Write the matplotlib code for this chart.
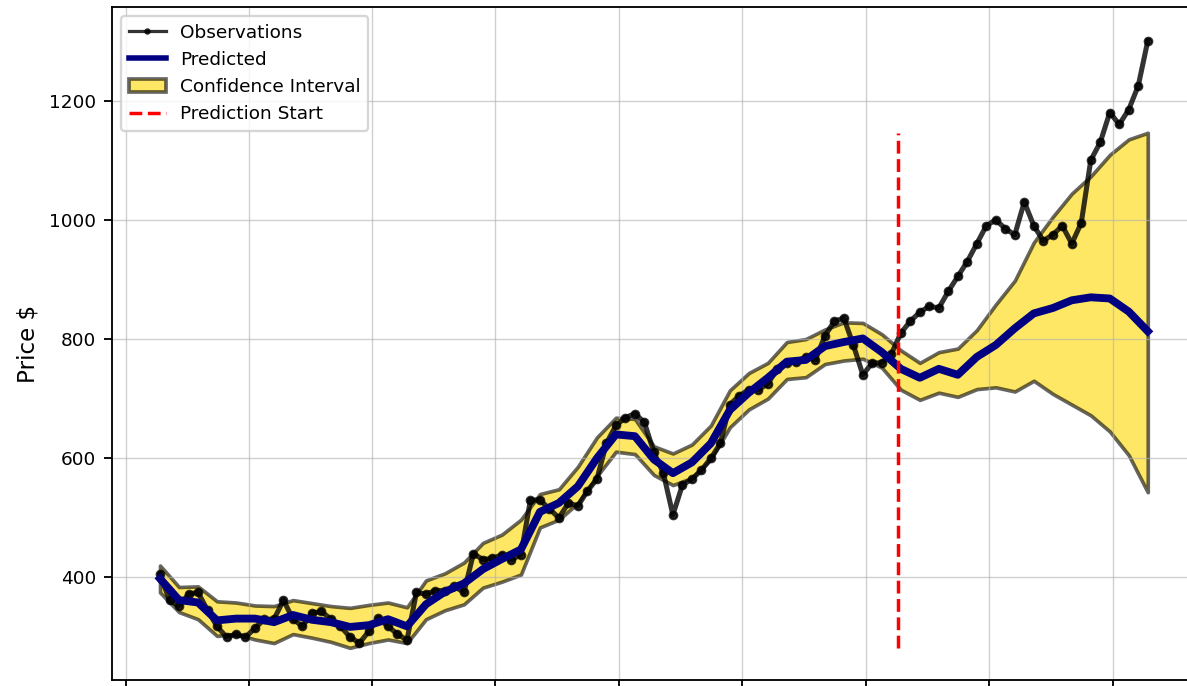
import matplotlib
matplotlib.use("Agg")
import matplotlib.pyplot as plt
import matplotlib.dates as mdates
import pandas as pd

# observed closing prices, sampled every two weeks
obs_dates = pd.date_range("2014-01-21", "2018-01-22", periods=105)
obs_price = [
    405, 362, 352, 372, 375, 345, 318, 300, 305, 300,
    315, 330, 330, 362, 330, 318, 340, 343, 330, 318,
    300, 290, 310, 332, 318, 305, 295, 375, 372, 378,
    378, 385, 375, 440, 430, 432, 438, 430, 438, 530,
    530, 515, 500, 525, 520, 545, 565, 625, 655, 668,
    675, 660, 610, 575, 505, 555, 565, 580, 600, 625,
    690, 705, 715, 715, 725, 750, 760, 762, 770, 765,
    805, 830, 835, 790, 740, 760, 760, 775, 810, 830,
    845, 855, 852, 880, 905, 930, 960, 990, 1000, 985,
    975, 1030, 990, 965, 975, 990, 960, 995, 1100, 1130,
    1180, 1160, 1185, 1225, 1300,
]

# model estimate and uncertainty interval, sampled every four weeks
fc_dates = pd.date_range("2014-01-21", "2018-01-22", periods=53)
yhat = [
    398, 362, 358, 328, 331, 331, 325, 337, 329, 325,
    317, 320, 330, 318, 355, 376, 390, 414, 431, 447,
    510, 525, 553, 600, 640, 637, 598, 575, 593, 625,
    681, 710, 735, 762, 765, 788, 795, 801, 778, 750,
    735, 750, 740, 770, 790, 818, 843, 852, 865, 870,
    868, 846, 813,
]
yhat_upper = [
    420, 384, 385, 360, 358, 353, 352, 362, 357, 352,
    349, 354, 358, 350, 395, 407, 425, 458, 472, 497,
    540, 548, 586, 635, 668, 666, 620, 608, 623, 655,
    714, 743, 760, 795, 800, 816, 828, 827, 808, 781,
    760, 778, 784, 815, 858, 898, 962, 1005, 1044, 1073,
    1109, 1135, 1146,
]
yhat_lower = [
    375, 342, 330, 302, 305, 296, 290, 305, 299, 292,
    282, 290, 296, 290, 330, 345, 355, 383, 393, 405,
    484, 497, 525, 570, 611, 607, 572, 555, 567, 598,
    652, 682, 700, 733, 736, 758, 764, 767, 752, 715,
    698, 710, 703, 716, 719, 712, 730, 708, 690, 672,
    645, 605, 543,
]
test_start = pd.Timestamp("2017-01-17")

fig = plt.figure(figsize=(1187 / 166, 686 / 166), dpi=166)
ax = fig.add_axes([0.0944, 0.00875, 0.9141, 0.98105])

ax.plot(obs_dates, obs_price, "ko-", linewidth=2.2, alpha=0.8, ms=3.2,
        label="Observations")
ax.plot(fc_dates, yhat, color="navy", linewidth=3.4, label="Predicted")
ax.fill_between(fc_dates.to_pydatetime(), yhat_upper, yhat_lower, alpha=0.6,
                facecolor="gold", edgecolor="k", linewidth=1.6,
                label="Confidence Interval")
ax.vlines(x=test_start, ymin=min(yhat_lower), ymax=max(yhat_upper),
          colors="r", linestyles="dashed", label="Prediction Start")

ax.set_xlim(pd.Timestamp("2013-11-11"), pd.Timestamp("2018-04-05"))
ax.set_ylim(228, 1357)
ax.xaxis.set_major_locator(mdates.MonthLocator(bymonth=[6, 12]))
ax.tick_params(labelsize=8)
ax.tick_params(axis="x", labelbottom=False)

leg = ax.legend(loc=2, prop={"size": 8})
# keep the legend keys at the plain line weights
leg_lines = leg.get_lines()
leg_lines[0].set_linewidth(1.4)
leg_lines[0].set_markersize(1.8)
leg_lines[1].set_linewidth(2.4)

ax.set_ylabel("Price $", fontsize=10)
ax.grid(linewidth=0.6, alpha=0.6)

fig.savefig("out.png", dpi=166)
